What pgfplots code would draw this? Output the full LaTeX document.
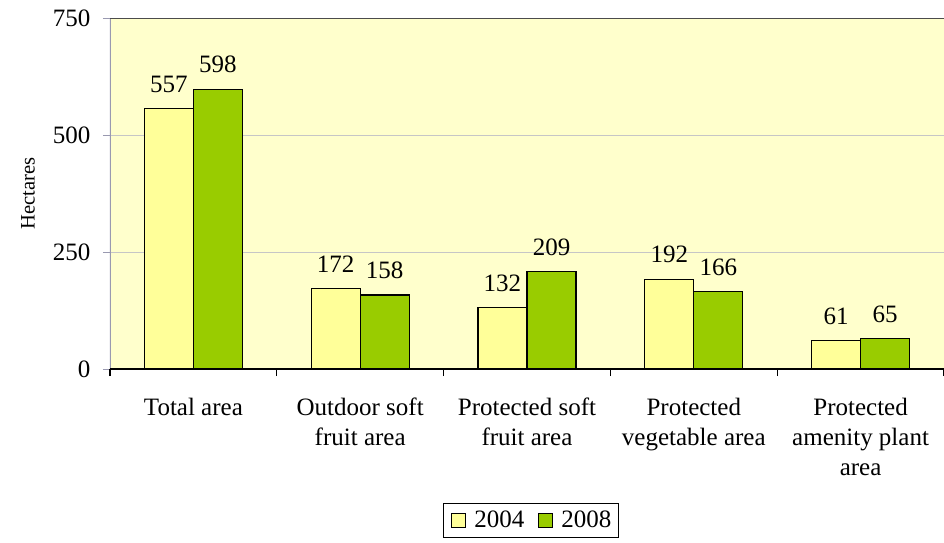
\documentclass[border=0pt]{standalone}
\usepackage{pgfplots}
\pgfplotsset{compat=1.18}
\usepackage{fontspec}
\setmainfont{Liberation Serif}
\definecolor{bgyellow}{HTML}{FFFFCC}
\definecolor{bar04}{HTML}{FFFF99}
\definecolor{bar08}{HTML}{99CC00}
\definecolor{axgray}{HTML}{9999B0}

\begin{document}
\fontsize{12.5}{15}\selectfont
\begin{tikzpicture}
\begin{axis}[
  scale only axis, width=417pt, height=175.5pt,
  ybar=0pt, bar width=0.294,
  xmin=-0.5, xmax=4.5, ymin=0, ymax=750,
  /pgf/number format/assume math mode=true,
  xtick={0,1,2,3,4},
  xticklabels={Total area,Outdoor soft\\fruit area,Protected soft\\fruit area,Protected\\vegetable area,Protected\\amenity plant\\area},
  x tick label style={align=center, font=\fontsize{12.5}{15}\selectfont, yshift=-6.5pt},
  major tick length=3.5pt,
  major x tick style={draw=none},
  extra x ticks={-0.5,0.5,1.5,2.5,3.5,4.5},
  extra x tick labels={},
  extra x tick style={major x tick style={draw=black, line width=0.6pt}},
  xtick align=outside,
  ytick={0,250,500,750},
  ytick align=outside, ytick pos=left, xtick pos=bottom,
  y tick style={axgray},
  y tick label style={xshift=-2pt, font=\fontsize{12.5}{15}\selectfont},
  ymajorgrids, grid style={gray!45, line width=0.4pt},
  axis line style={draw=none},
  axis background/.style={fill=bgyellow},
  ylabel={Hectares},
  every axis y label/.style={at={(axis description cs:-0.0983,0.5)}, rotate=90, anchor=center, font=\fontsize{10.3}{12}\selectfont},
  nodes near coords,
  every node near coord/.append style={font=\fontsize{12.5}{15}\selectfont, yshift=3.5pt},
  legend style={at={(0.5,0)}, anchor=north, xshift=2pt, yshift=-67pt, legend columns=2, draw=black, line width=0.5pt,
    font=\fontsize{12.5}{15}\selectfont, inner sep=1.5pt, /tikz/every even column/.append style={column sep=2.5pt}},
  legend image code/.code={\path[draw=none, fill=none] (0pt,0pt) rectangle (12pt,0.1pt); \draw[#1, draw=black, line width=0.6pt] (2.5pt,-3.5pt) rectangle (9.5pt,3.5pt);},
]
\addplot[fill=bar04, draw=black, line width=0.6pt] coordinates {(0,557) (1,172) (2,132) (3,192) (4,61)};
\addplot[fill=bar08, draw=black, line width=0.6pt] coordinates {(0,598) (1,158) (2,209) (3,166) (4,65)};
\legend{2004,2008}
\draw[axgray, line width=0.6pt] (rel axis cs:0,0) -- (rel axis cs:0,1);
\draw[black!70, line width=0.6pt] (rel axis cs:0,1) -- (rel axis cs:1,1);
\draw[black, line width=0.6pt] (rel axis cs:0,0) -- (rel axis cs:1,0);
\end{axis}
\pgfresetboundingbox
\path[use as bounding box] (-55pt,-86.5pt) rectangle (417pt,184.5pt);
\end{tikzpicture}
\end{document}
